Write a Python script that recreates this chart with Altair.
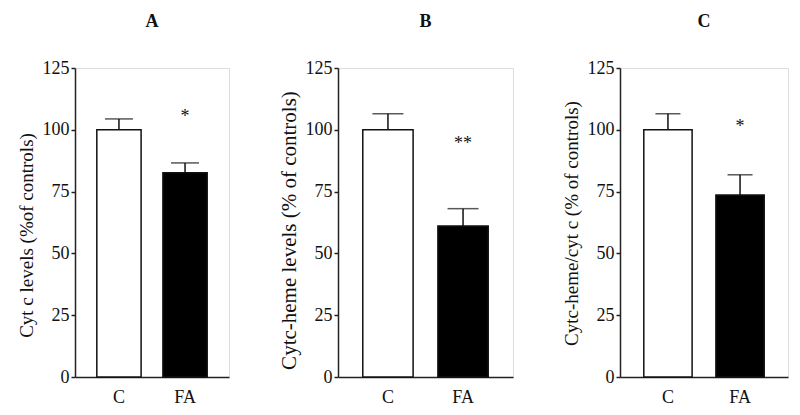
import altair as alt
import pandas as pd

groups = ["C", "FA"]
panel_titles = ["A", "B", "C"]
y_titles = [
    "Cyt c levels (%of controls)",
    "Cytc-heme levels (% of controls)",
    "Cytc-heme/cyt c (% of controls)",
]
means_A = [100, 82.6]
errs_A = [4.4, 4.0]
means_B = [100, 61.1]
errs_B = [6.5, 7.0]
means_C = [100, 73.6]
errs_C = [6.5, 8.2]
sig_labels = ["*", "**", "*"]
sig_y = [106.5, 95.5, 102.4]
y_ticks = [0, 25, 50, 75, 100, 125]

FONT = "Liberation Serif"

panel_means = [means_A, means_B, means_C]
panel_errs = [errs_A, errs_B, errs_C]
panel_widths = [154, 175, 168]
cap_sizes = [28, 31, 25]
ytitle_sizes = [19, 21, 19]
ytitle_pad = [6, 6, 6]
ytitle_y = [167, 162, 155]
PLOT_H = 309


def make_panel(i):
    df = pd.DataFrame({
        "group": groups,
        "mean": panel_means[i],
        "upper": [m + e for m, e in zip(panel_means[i], panel_errs[i])],
    })
    sig_df = pd.DataFrame({"group": ["FA"], "y": [sig_y[i]], "label": [sig_labels[i]]})

    x = alt.X(
        "group:N",
        sort=groups,
        scale=alt.Scale(paddingInner=0.33, paddingOuter=0.33),
        axis=alt.Axis(
            title=None, labelAngle=0, ticks=False, labelPadding=11,
            labelFont=FONT, labelFontSize=18, labelColor="#111",
            domainColor="#222", domainWidth=1.5, grid=False,
        ),
    )
    y_scale = alt.Scale(domain=[0, 125], nice=False)
    y = alt.Y(
        "mean:Q",
        scale=y_scale,
        axis=alt.Axis(
            title=y_titles[i], values=y_ticks, grid=False,
            tickSize=4, tickColor="#222", tickWidth=1.5,
            domainColor="#222", domainWidth=1.5,
            labelFont=FONT, labelFontSize=18, labelColor="#111", labelPadding=2,
            titleFont=FONT, titleFontSize=ytitle_sizes[i], titleFontWeight="normal",
            titleColor="#111", titlePadding=ytitle_pad[i], titleY=ytitle_y[i],
        ),
    )

    bars = alt.Chart(df).mark_bar(stroke="#111", strokeWidth=1.5).encode(
        x=x,
        y=y,
        color=alt.Color("group:N", scale=alt.Scale(domain=groups, range=["white", "black"]), legend=None),
    )
    stem = alt.Chart(df).mark_rule(color="#111", strokeWidth=1.5).encode(
        x=alt.X("group:N", sort=groups),
        y=alt.Y("mean:Q", scale=y_scale),
        y2="upper:Q",
    )
    cap = alt.Chart(df).mark_tick(color="#111", thickness=1.5, size=cap_sizes[i], orient="horizontal").encode(
        x=alt.X("group:N", sort=groups),
        y=alt.Y("upper:Q", scale=y_scale),
    )
    star = alt.Chart(sig_df).mark_text(font=FONT, fontSize=18, color="#111", baseline="middle", dy=3).encode(
        x=alt.X("group:N", sort=groups),
        y=alt.Y("y:Q", scale=y_scale),
        text="label:N",
    )
    return alt.layer(bars, stem, cap, star).properties(
        width=panel_widths[i],
        height=PLOT_H,
        title=alt.TitleParams(panel_titles[i], font=FONT, fontSize=18, fontWeight="bold",
                              color="#111", anchor="middle", offset=28),
    )


chart = alt.hconcat(*[make_panel(i) for i in range(3)], spacing=47).configure_view(
    stroke=None
).configure(padding={"left": 8, "top": 4, "right": 0, "bottom": 0}, background="white")

chart.save("out.html", embed_options={"renderer": "svg", "actions": False})
